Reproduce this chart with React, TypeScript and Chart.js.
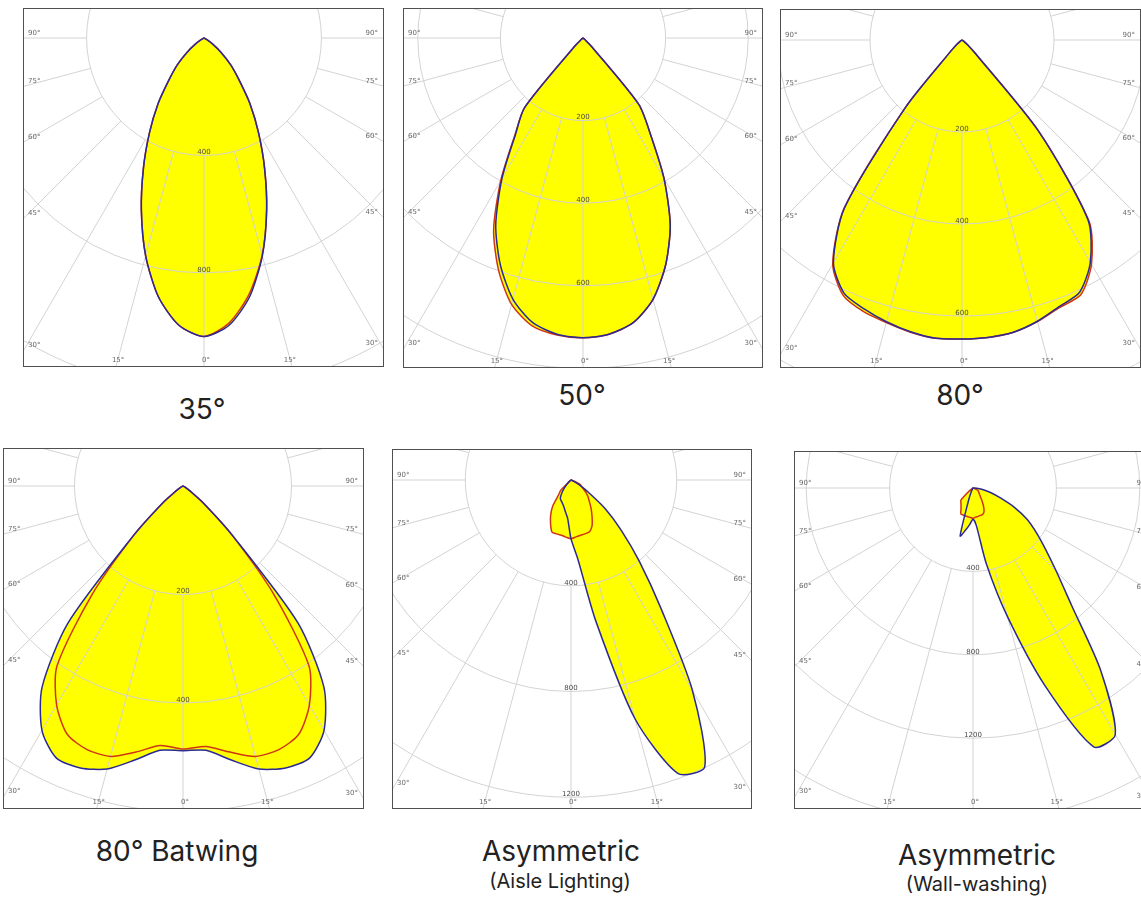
import React, { useEffect, useRef } from 'react';
import { Chart, registerables } from 'chart.js';

Chart.register(...registerables);

// ---------- data ----------
// gamma angles of the samples (degrees from nadir), one sample every 5°
const GAMMA = [0, 5, 10, 15, 20, 25, 30, 35, 40, 45, 50, 55, 60, 65, 70, 75, 80, 85, 90];
// labelled spokes
const ANGLE_TICKS = [0, 15, 30, 45, 60, 75, 90];

// 35°  (cd/klm) – L = left half-plane, R = right half-plane
const P1_BLUE_L = [1017, 982, 895, 768, 624, 488, 371, 273, 185, 128, 75, 35, 10, 0, 0, 0, 0, 0, 0];
const P1_BLUE_R = [1017, 982, 895, 768, 624, 488, 371, 273, 185, 128, 75, 35, 10, 0, 0, 0, 0, 0, 0];
const P1_RED_L = [1017, 982, 895, 768, 624, 488, 371, 273, 185, 128, 75, 35, 10, 0, 0, 0, 0, 0, 0];
const P1_RED_R = [1017, 975, 886, 766, 624, 488, 371, 273, 185, 128, 75, 35, 10, 0, 0, 0, 0, 0, 0];

// 50°
const P2_BLUE_L = [726, 720, 700, 655, 585, 500, 392, 285, 220, 30, 5, 0, 0, 0, 0, 0, 0, 0, 0];
const P2_BLUE_R = [726, 720, 700, 655, 585, 500, 392, 285, 210, 30, 5, 0, 0, 0, 0, 0, 0, 0, 0];
const P2_RED_L = [726, 722, 708, 668, 598, 512, 398, 288, 220, 30, 5, 0, 0, 0, 0, 0, 0, 0, 0];
const P2_RED_R = [726, 720, 700, 655, 585, 500, 392, 285, 210, 30, 5, 0, 0, 0, 0, 0, 0, 0, 0];

// 80°
const P3_BLUE_L = [650, 651, 644, 634, 622, 607, 559, 445, 190, 35, 15, 5, 0, 0, 0, 0, 0, 0, 0];
const P3_BLUE_R = [650, 649, 645, 633, 617, 605, 558, 478, 260, 40, 15, 5, 0, 0, 0, 0, 0, 0, 0];
const P3_RED_L = [650, 651, 645, 636, 628, 612, 562, 447, 190, 35, 15, 5, 0, 0, 0, 0, 0, 0, 0];
const P3_RED_R = [650, 649, 645, 634, 619, 611, 563, 482, 260, 40, 15, 5, 0, 0, 0, 0, 0, 0, 0];

// 80° Batwing
const P4_BLUE_L = [488, 489, 513, 540, 553, 553, 520, 453, 330, 130, 50, 15, 5, 0, 0, 0, 0, 0, 0];
const P4_BLUE_R = [488, 489, 513, 540, 553, 553, 520, 453, 330, 130, 50, 15, 5, 0, 0, 0, 0, 0, 0];
const P4_RED_L = [485, 480, 498, 516, 517, 505, 466, 405, 260, 128, 50, 15, 5, 0, 0, 0, 0, 0, 0];
const P4_RED_R = [485, 482, 498, 516, 517, 505, 466, 405, 260, 128, 50, 15, 5, 0, 0, 0, 0, 0, 0];

// Asymmetric (Aisle Lighting)
const P5_BLUE_L = [222, 146, 122, 105, 94, 87, 81, 62, 38, 20, 5, 0, 0, 0, 0, 0, 0, 0, 0];
const P5_BLUE_R = [222, 302, 543, 935, 1181, 1197, 918, 594, 403, 269, 169, 77, 35, 10, 0, 0, 0, 0, 0];
const P5_RED_L = [222, 217, 212, 211, 210, 183, 154, 121, 73, 54, 5, 0, 0, 0, 0, 0, 0, 0, 0];
const P5_RED_R = [222, 216, 212, 210, 207, 189, 159, 133, 109, 92, 74, 55, 45, 37, 10, 0, 0, 0, 0];

// Asymmetric (Wall-washing)
const P6_BLUE_L = [150, 175, 205, 238, 60, 20, 5, 0, 0, 0, 0, 0, 0, 0, 0, 0, 0, 0, 0];
const P6_BLUE_R = [150, 180, 370, 639, 1009, 1370, 1365, 1067, 736, 565, 452, 369, 298, 219, 140, 92, 50, 25, 5];
const P6_RED_L = [145, 142, 140, 139, 138, 137, 115, 100, 90, 82, 30, 5, 0, 0, 0, 0, 0, 0, 0];
const P6_RED_R = [145, 140, 138, 136, 135, 125, 101, 75, 56, 45, 38, 33, 29, 26, 5, 0, 0, 0, 0];

// ---------- layout / style ----------
const BLUE = '#2b2a94';
const RED = '#cf3414';
const YELLOW = '#ffff00';
const GRID = '#d3d3d3';

type Panel = {
  box: { x: number; y: number; w: number; h: number };
  center: { x: number; y: number };
  ppu: number; // pixels per cd/klm
  step: number;
  max: number;
  blueL: number[]; blueR: number[]; redL: number[]; redR: number[];
};

const PANELS: Panel[] = [
  { box: { x: 24, y: 9, w: 359, h: 357 }, center: { x: 204, y: 38 }, ppu: 0.2935, step: 400, max: 1400,
    blueL: P1_BLUE_L, blueR: P1_BLUE_R, redL: P1_RED_L, redR: P1_RED_R },
  { box: { x: 404, y: 9, w: 358, h: 358 }, center: { x: 583, y: 38 }, ppu: 0.4133, step: 200, max: 1000,
    blueL: P2_BLUE_L, blueR: P2_BLUE_R, redL: P2_RED_L, redR: P2_RED_R },
  { box: { x: 781, y: 10, w: 359, h: 357 }, center: { x: 962, y: 40 }, ppu: 0.4596, step: 200, max: 1000,
    blueL: P3_BLUE_L, blueR: P3_BLUE_R, redL: P3_RED_L, redR: P3_RED_R },
  { box: { x: 4, y: 449, w: 359, h: 359 }, center: { x: 183, y: 486 }, ppu: 0.5425, step: 200, max: 800,
    blueL: P4_BLUE_L, blueR: P4_BLUE_R, redL: P4_RED_L, redR: P4_RED_R },
  { box: { x: 393, y: 450, w: 358, h: 358 }, center: { x: 571, y: 480 }, ppu: 0.2645, step: 400, max: 1600,
    blueL: P5_BLUE_L, blueR: P5_BLUE_R, redL: P5_RED_L, redR: P5_RED_R },
  { box: { x: 795, y: 452, w: 359, h: 356 }, center: { x: 973, y: 488 }, ppu: 0.2085, step: 400, max: 2000,
    blueL: P6_BLUE_L, blueR: P6_BLUE_R, redL: P6_RED_L, redR: P6_RED_R },
];

const TITLES = [
  { text: '35°', x: 202, base: 419, size: 28 },
  { text: '50°', x: 582, base: 405, size: 28 },
  { text: '80°', x: 960, base: 405, size: 28 },
  { text: '80° Batwing', x: 177, base: 861, size: 28 },
  { text: 'Asymmetric', x: 561, base: 861, size: 28 },
  { text: '(Aisle Lighting)', x: 560, base: 888, size: 20 },
  { text: 'Asymmetric', x: 977, base: 865, size: 28 },
  { text: '(Wall-washing)', x: 977, base: 891, size: 20 },
];

// full 360° ring of radar labels: index 0 = nadir, going clockwise (left half first)
const STEP_DEG = GAMMA[1] - GAMMA[0];
const RING_COUNT = Math.round(360 / STEP_DEG);
const RING_LABELS = Array.from({ length: RING_COUNT }, (_, i) => String(i * STEP_DEG));

function ring(left: number[], right: number[]): number[] {
  const half = GAMMA.length - 1; // index of 90°
  const out: number[] = [];
  for (let i = 0; i < RING_COUNT; i++) {
    if (i <= half) out.push(left[i]);
    else if (i >= RING_COUNT - half) out.push(right[RING_COUNT - i]);
    else out.push(0);
  }
  return out;
}

const polarLabels = {
  id: 'polarLabels',
  afterDraw(chart: any, _args: any, opts: any) {
    const scale = chart.scales.r;
    const ctx = chart.ctx;
    const cx = scale.xCenter;
    const cy = scale.yCenter;
    const box = opts.box;
    ctx.save();
    // intensity labels along the nadir spoke
    ctx.font = '7px "DejaVu Sans", sans-serif';
    ctx.fillStyle = '#4a4a4a';
    ctx.textAlign = 'center';
    ctx.textBaseline = 'middle';
    scale.ticks.forEach((t: any) => {
      if (t.value <= 0) return;
      const r = scale.getDistanceFromCenterForValue(t.value);
      const y = cy + r - 3;
      if (y > box.bottom - 9) return;
      ctx.fillText(String(Math.round(t.value)), cx, y);
    });
    // angle labels where the spokes meet the frame
    ctx.fillStyle = '#6a6a6a';
    [-1, 1].forEach((side) => {
      ANGLE_TICKS.forEach((g) => {
        if (g === 0 && side === 1) return;
        const a = (g * Math.PI) / 180;
        const dx = side * Math.sin(a);
        const dy = Math.cos(a);
        const edgeX = side < 0 ? box.left : box.right;
        const tx = Math.abs(dx) > 1e-9 ? (edgeX - cx) / dx : Infinity;
        const ty = dy > 1e-9 ? (box.bottom - cy) / dy : Infinity;
        const text = g + '°';
        if (tx < ty) {
          const y = cy + tx * dy;
          ctx.textAlign = side < 0 ? 'left' : 'right';
          ctx.textBaseline = 'middle';
          ctx.fillText(text, edgeX + (side < 0 ? 4 : -5), y - 5);
        } else {
          const x = cx + ty * dx;
          ctx.textAlign = 'center';
          ctx.textBaseline = 'middle';
          ctx.fillText(text, x - side * 2, box.bottom - 6);
        }
      });
    });
    ctx.restore();
  },
};

function PolarPanel({ p }: { p: Panel }) {
  const ref = useRef<HTMLCanvasElement>(null);
  const R = Math.round(p.max * p.ppu);
  const localX = p.center.x - p.box.x;
  const localY = p.center.y - p.box.y;
  useEffect(() => {
    const boxRect = {
      left: R - localX,
      top: R - localY,
      right: R - localX + p.box.w,
      bottom: R - localY + p.box.h,
    };
    const fallbackInner = (p.step * R) / p.max;
    const chart = new Chart(ref.current as HTMLCanvasElement, {
      type: 'radar',
      data: {
        labels: RING_LABELS,
        datasets: [
          {
            data: ring(p.blueL, p.blueR),
            borderColor: BLUE,
            backgroundColor: YELLOW,
            borderWidth: 1.5,
            fill: 'origin',
            pointRadius: 0,
            tension: 0.25,
          },
          {
            data: ring(p.redL, p.redR),
            borderColor: RED,
            backgroundColor: YELLOW,
            borderWidth: 1.5,
            fill: 'origin',
            pointRadius: 0,
            tension: 0.25,
          },
        ],
      } as any,
      options: {
        responsive: false,
        animation: false,
        events: [],
        layout: { padding: 0 },
        plugins: {
          legend: { display: false },
          tooltip: { enabled: false },
          filler: { drawTime: 'beforeDraw' },
          polarLabels: { box: boxRect },
        },
        scales: {
          r: {
            min: 0,
            max: p.max,
            startAngle: 180,
            ticks: { display: false, stepSize: p.step, includeBounds: false },
            pointLabels: { display: false },
            grid: { circular: true, color: GRID, lineWidth: 1 },
            angleLines: {
              display: true,
              color: GRID,
              lineWidth: (c: any) => (c.index % 3 === 0 ? 1 : 0),
              borderDash: (c: any) => {
                const r0 = c.scale && c.scale.getDistanceFromCenterForValue
                  ? c.scale.getDistanceFromCenterForValue(p.step)
                  : fallbackInner;
                return [0, r0, 5000];
              },
            },
          },
        },
      } as any,
      plugins: [polarLabels as any],
    });
    return () => chart.destroy();
  }, []);

  return (
    <>
      <div
        style={{
          position: 'absolute',
          left: p.box.x,
          top: p.box.y,
          width: p.box.w,
          height: p.box.h,
          overflow: 'hidden',
          background: '#fff',
        }}
      >
        <canvas
          ref={ref}
          width={2 * R}
          height={2 * R}
          style={{ position: 'absolute', left: localX - R, top: localY - R, width: 2 * R, height: 2 * R }}
        />
      </div>
      <div
        style={{
          position: 'absolute',
          left: p.box.x - 1,
          top: p.box.y - 1,
          width: p.box.w + 2,
          height: p.box.h + 2,
          border: '1.5px solid #505050',
          boxSizing: 'border-box',
          pointerEvents: 'none',
        }}
      />
    </>
  );
}

export default function App() {
  return (
    <div
      style={{
        position: 'fixed',
        left: 0,
        top: 0,
        width: 1141,
        height: 900,
        overflow: 'hidden',
        background: '#fff',
        fontFamily: 'Inter, "Noto Sans", sans-serif',
      }}
    >
      {PANELS.map((p, i) => (
        <PolarPanel key={i} p={p} />
      ))}
      {TITLES.map((t, i) => (
        <div
          key={'t' + i}
          style={{
            position: 'absolute',
            left: t.x,
            top: t.base - 0.865 * t.size,
            transform: 'translateX(-50%)',
            fontSize: t.size,
            lineHeight: 1,
            color: '#222',
            whiteSpace: 'nowrap',
          }}
        >
          {t.text}
        </div>
      ))}
    </div>
  );
}
